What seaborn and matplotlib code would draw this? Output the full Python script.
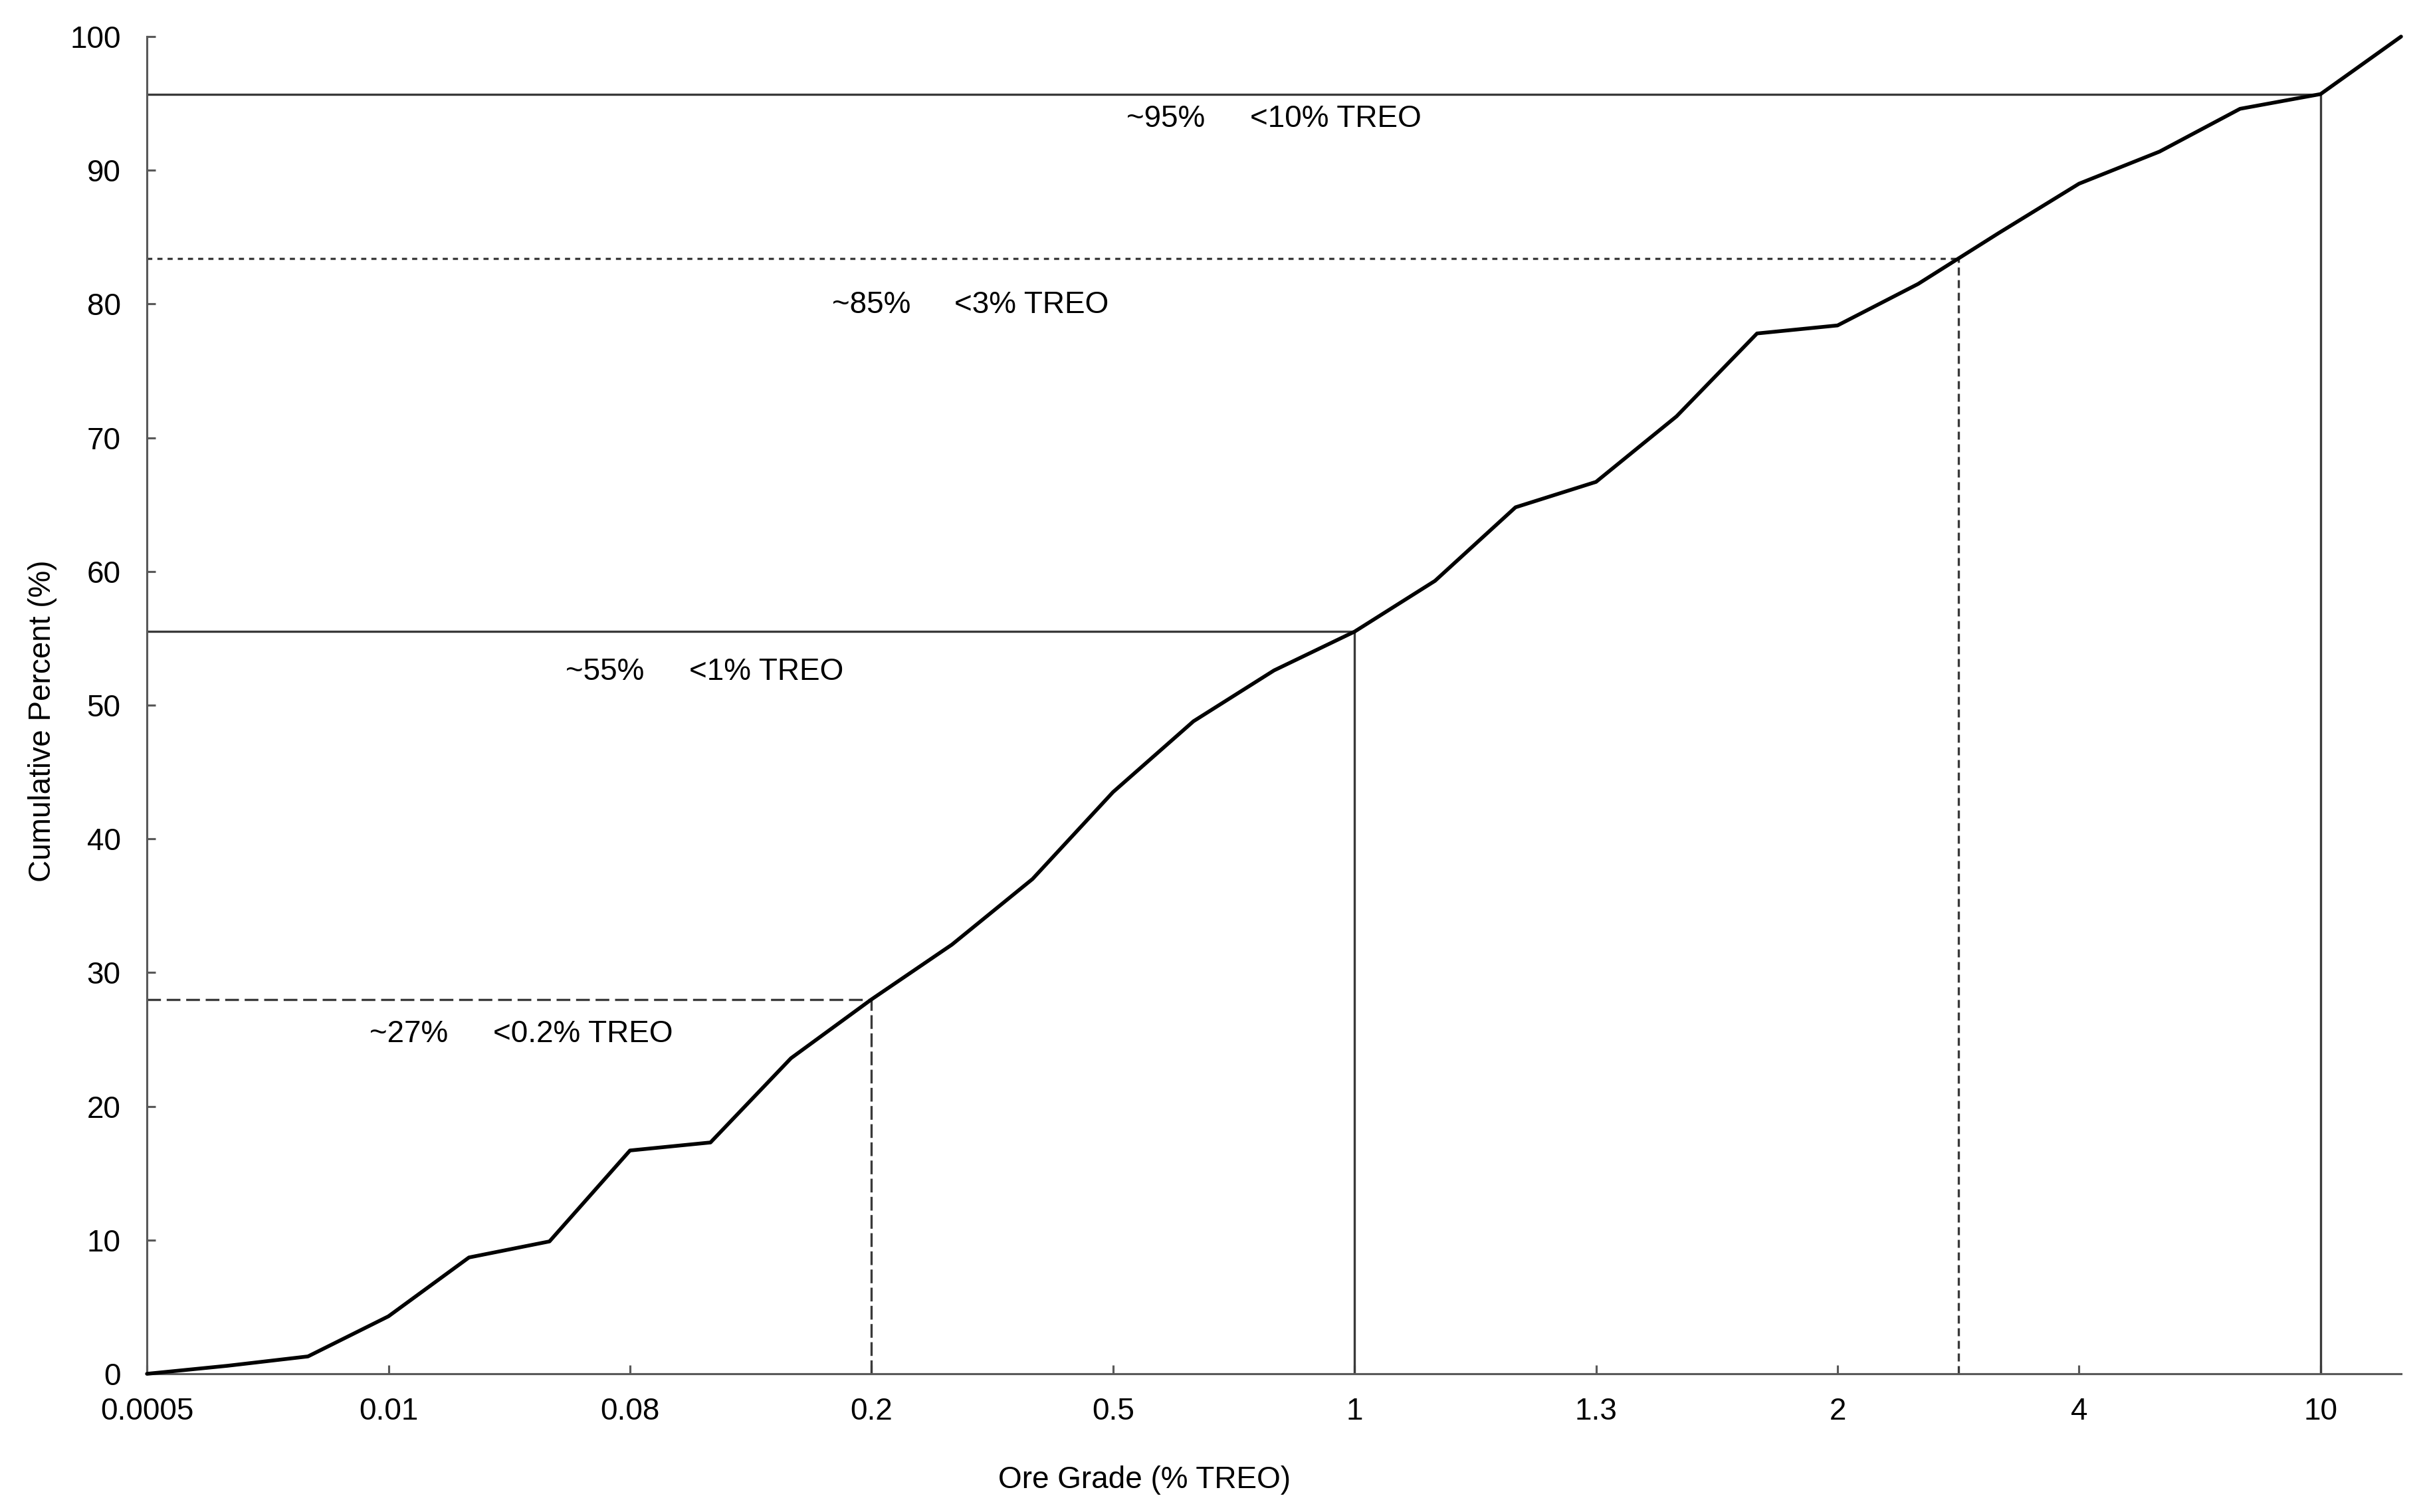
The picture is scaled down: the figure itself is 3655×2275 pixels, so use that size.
import numpy as np
import pandas as pd
import matplotlib
matplotlib.use("Agg")
import matplotlib.pyplot as plt
import seaborn as sns

# ---------------- data ----------------
grade_labels = ["0.0005", "0.01", "0.08", "0.2", "0.5", "1", "1.3", "2", "4", "10"]
# cumulative percent, read at thirds of each grade step
cum_pct = [0.0, 0.6, 1.3, 4.3, 8.7, 9.9, 16.7, 17.3, 23.6, 28.0,
           32.1, 37.0, 43.5, 48.8, 52.6, 55.5, 59.3, 64.8, 66.7, 71.6,
           77.8, 78.4, 81.5, 85.3, 89.0, 91.4, 94.6, 95.7, 100.0]
points_per_step = 3

# reference (threshold) lines: grade position on axis and cumulative percent
ref_grade_pos = [9, 7.5, 5, 3]          # 10 %, ~3 %, 1 %, 0.2 %
ref_pct = [95.7, 83.4, 55.5, 28.0]
ref_share_text = ["~95%", "~85%", "~55%", "~27%"]
ref_grade_text = ["<10% TREO", "<3% TREO", "<1% TREO", "<0.2% TREO"]

# ---------------- layout ----------------
share_x = [4.055, 2.836, 1.733, 0.921]
grade_x = [4.567, 3.342, 2.245, 1.433]
text_y = [93.24, 79.35, 51.89, 24.78]

h_styles = ["-", (0, (2.3, 2.3)), "-", (0, (6.2, 2.6))]
v_styles = ["-", (0, (3.6, 2.1)), "-", (0, (6.2, 2.0))]

sns.set_theme(style="ticks")
plt.rcParams["font.family"] = ["Liberation Sans", "DejaVu Sans"]

fig = plt.figure(figsize=(3655 / 300, 2275 / 300), dpi=300)
ax = fig.add_axes([0.0605, 0.0914, 0.9885 - 0.0605, 0.9758 - 0.0914])

df = pd.DataFrame({"pos": np.arange(len(cum_pct)) / points_per_step,
                   "pct": cum_pct})
sns.lineplot(data=df, x="pos", y="pct", ax=ax, color="black", lw=1.35,
             clip_on=False, zorder=3)

ref_color = "#3a3a3a"
for gx, py, hs, vs in zip(ref_grade_pos, ref_pct, h_styles, v_styles):
    ax.hlines(py, 0, gx, colors=ref_color, lw=0.8, linestyles=[hs], zorder=2)
    ax.vlines(gx, 0, py, colors=ref_color, lw=0.8, linestyles=[vs], zorder=2)

for sx, gx, ty, st, gt in zip(share_x, grade_x, text_y, ref_share_text, ref_grade_text):
    ax.text(sx, ty, st, fontsize=11, ha="left", va="baseline", color="black")
    ax.text(gx, ty, gt, fontsize=11, ha="left", va="baseline", color="black")

ax.set_xlim(0, (len(cum_pct) - 1) / points_per_step)
ax.set_ylim(0, 100)
ax.set_xticks(range(len(grade_labels)))
ax.set_xticklabels(grade_labels)
ax.set_yticks(range(0, 101, 10))

spine_color = "#595959"
for s in ["top", "right"]:
    ax.spines[s].set_visible(False)
for s in ["left", "bottom"]:
    ax.spines[s].set_color(spine_color)
    ax.spines[s].set_linewidth(0.75)
ax.tick_params(axis="both", direction="in", length=3.1, width=0.75,
               color=spine_color, labelsize=11, labelcolor="black")
ax.tick_params(axis="x", pad=8.5)
ax.tick_params(axis="y", pad=9.5)

ax.set_xlabel("Ore Grade (% TREO)", fontsize=11, color="black")
ax.set_ylabel("Cumulative Percent (%)", fontsize=11, color="black")
ax.xaxis.set_label_coords(0.4425, -0.0686)
ax.yaxis.set_label_coords(-0.0398, 0.488)

fig.savefig("out.png", dpi=300, facecolor="white")
